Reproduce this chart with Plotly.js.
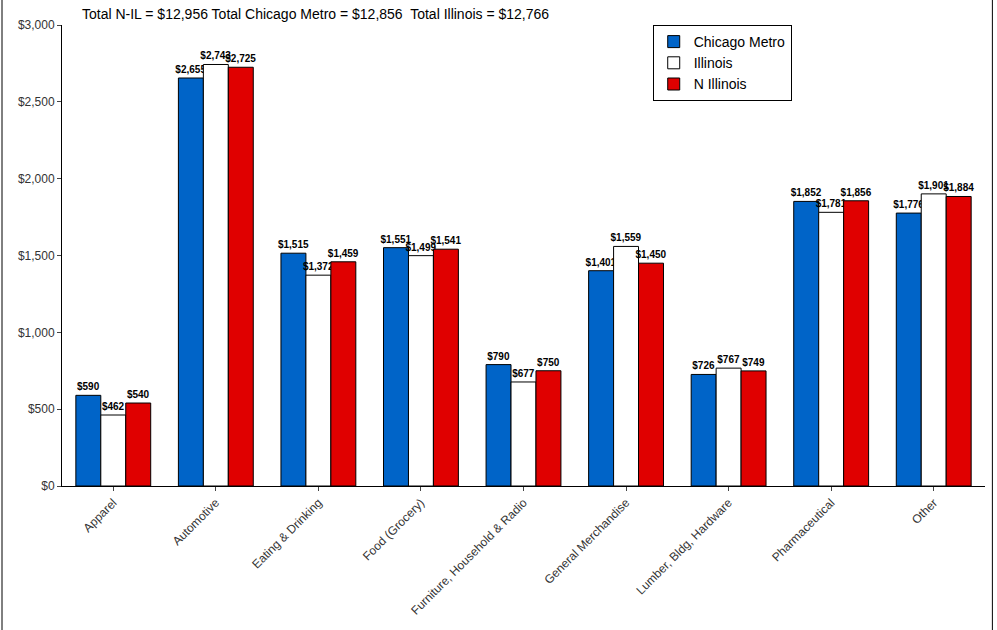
<!DOCTYPE html>
<html>
<head>
<meta charset="utf-8">
<script src="https://cdn.plot.ly/plotly-3.0.1.min.js"></script>
<style>
  html, body { margin: 0; padding: 0; background: #fff; }
  #chart { width: 997px; height: 630px; }
</style>
</head>
<body>
<div id="chart"></div>
<script>
const categories = ['Apparel', 'Automotive', 'Eating & Drinking', 'Food (Grocery)',
  'Furniture, Household & Radio', 'General Merchandise', 'Lumber, Bldg, Hardware',
  'Pharmaceutical', 'Other']
const chicagoMetro = [590, 2655, 1515, 1551, 790, 1401, 726, 1852, 1776]
const illinois = [462, 2743, 1372, 1499, 677, 1559, 767, 1781, 1901]
const nIllinois = [540, 2725, 1459, 1541, 750, 1450, 749, 1856, 1884]
const tickVals = [0, 500, 1000, 1500, 2000, 2500, 3000]

const money = v => '$' + v.toLocaleString('en-US')

function series (name, values, color) {
  return {
    type: 'bar',
    name: name,
    x: categories,
    y: values,
    text: values.map(money),
    textposition: 'outside',
    constraintext: 'none',
    cliponaxis: false,
    textfont: { family: 'Arial, Liberation Sans', size: 10, color: '#000', weight: 'bold' },
    marker: { color: color, line: { color: '#000', width: 1 } }
  }
}

const data = [
  series('Chicago Metro', chicagoMetro, '#0064c8'),
  series('Illinois', illinois, '#ffffff'),
  series('N Illinois', nIllinois, '#e00000')
]

const layout = {
  width: 997,
  height: 630,
  margin: { l: 62, r: 12, t: 25, b: 144 },
  paper_bgcolor: '#fff',
  plot_bgcolor: '#fff',
  font: { family: 'Arial, Liberation Sans', size: 12, color: '#000' },
  barmode: 'group',
  bargap: 0.27,
  bargroupgap: 0,
  showlegend: true,
  legend: {
    x: 0.64, y: 1.0, xanchor: 'left', yanchor: 'top',
    bordercolor: '#000', borderwidth: 1, bgcolor: '#fff',
    font: { size: 14 }, tracegroupgap: 20,
    itemwidth: 30
  },
  xaxis: {
    tickangle: -45,
    showline: true, linecolor: '#000',
    ticks: 'outside', ticklen: 4,
    tickfont: { size: 12, color: '#333' }
  },
  yaxis: {
    range: [0, 3000],
    tickvals: tickVals,
    ticktext: tickVals.map(money),
    showgrid: false,
    showline: true, linecolor: '#000',
    ticks: 'outside', ticklen: 4,
    zeroline: false,
    tickfont: { size: 12, color: '#333' }
  },
  annotations: [{
    xref: 'paper', yref: 'paper', x: 0.02, y: 1.045, xanchor: 'left', yanchor: 'top',
    showarrow: false,
    text: 'Total N-IL = $12,956 Total Chicago Metro = $12,856  Total Illinois = $12,766',
    font: { size: 14 }
  }],
  shapes: [
    { type: 'line', xref: 'paper', yref: 'paper', x0: -0.065, x1: -0.065, y0: 1.06, y1: -0.32, line: { color: '#000', width: 1 } },
    { type: 'line', xref: 'paper', yref: 'paper', x0: 1.008, x1: 1.008, y0: 1.06, y1: -0.32, line: { color: '#000', width: 1 } }
  ]
}

Plotly.newPlot('chart', data, layout, { displayModeBar: false })
</script>
</body>
</html>
